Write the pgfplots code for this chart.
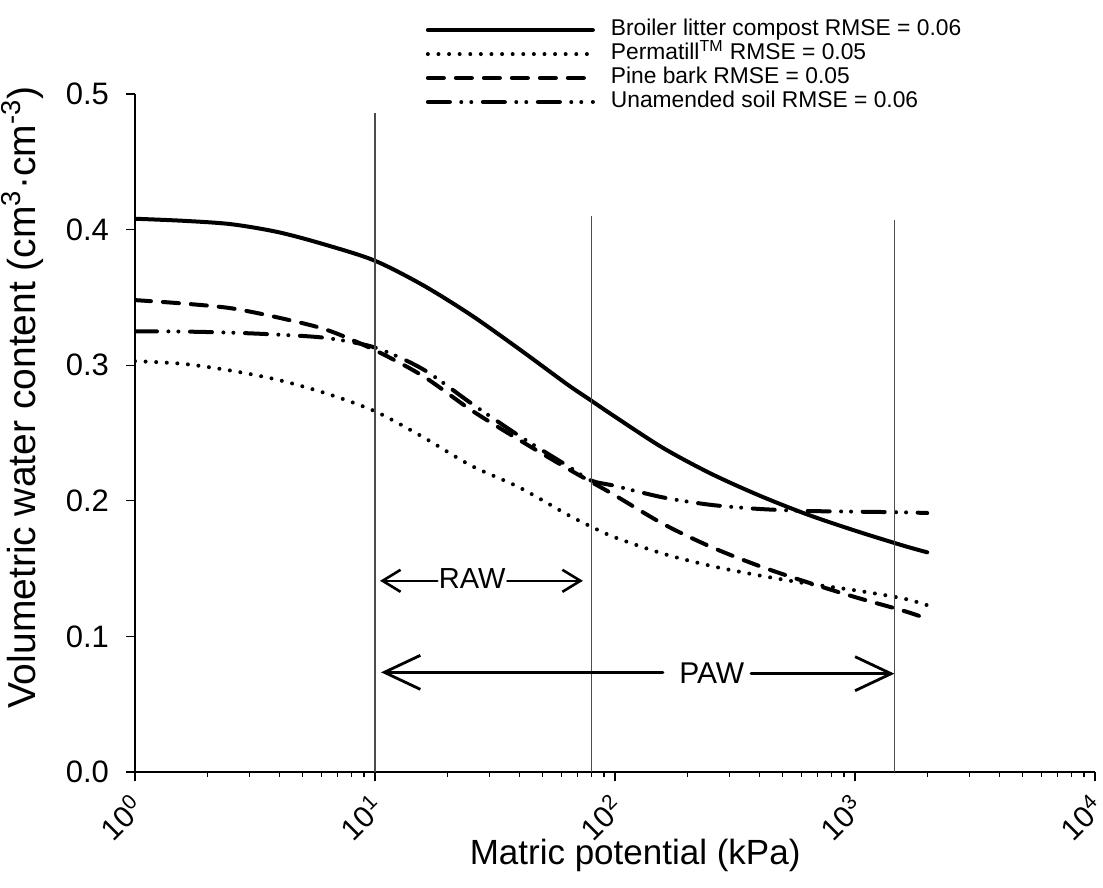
\documentclass[border=0pt]{standalone}
\usepackage{fontspec}
\setmainfont{Liberation Sans}
\usepackage{pgfplots}
\pgfplotsset{compat=1.18}
\usepackage{pgfplotstable}
\usetikzlibrary{arrows.meta}

% water retention curves (matric potential in kPa)
\pgfplotstableread{
psi    broiler permatill pine   unamended
1      0.408   0.303     0.348  0.325
1.585  0.4065  0.301     0.3455 0.3248
2.512  0.404   0.296     0.342  0.324
3.981  0.398   0.289     0.335  0.3225
6.310  0.3885  0.279     0.326  0.320
10     0.377   0.266     0.311  0.313
15.85  0.359   0.247     0.292  0.297
25.12  0.337   0.226     0.267  0.272
39.81  0.312   0.210     0.245  0.248
63.10  0.286   0.190     0.224  0.226
79.43  0.274   0.181     0.214  0.215
100    0.262   0.173     0.204  0.211
158.5  0.239   0.161     0.183  0.2025
251.2  0.220   0.152     0.166  0.197
398.1  0.204   0.145     0.152  0.194
631.0  0.190   0.139     0.140  0.1925
1000   0.178   0.134     0.129  0.192
1585   0.167   0.128     0.119  0.1915
2000   0.162   0.123     0.113  0.191
}\swrc

\begin{document}
\begin{tikzpicture}
\begin{axis}[
    scale only axis,
    width=480pt, height=339pt,
    xmode=log,
    xmin=1, xmax=10000, ymin=0, ymax=0.5,
    axis x line*=bottom, axis y line*=left,
    axis line style={line width=1.2pt},
    tick align=outside,
    major tick length=4.5pt, minor tick length=2.5pt,
    tick style={black, line width=0.6pt},
    xtick={1,10,100,1000,10000},
    xticklabels={10\textsuperscript{0},10\textsuperscript{1},10\textsuperscript{2},10\textsuperscript{3},10\textsuperscript{4}},
    x tick label style={rotate=45, anchor=east, yshift=-8pt, xshift=-2.5pt, font=\fontsize{15}{18}\selectfont},
    ytick={0,0.1,0.2,0.3,0.4,0.5},
    y tick label style={font=\fontsize{15.5}{18}\selectfont, xshift=-5pt,
        /pgf/number format/fixed, /pgf/number format/fixed zerofill,
        /pgf/number format/precision=1, /pgf/number format/assume math mode=true},
    xlabel={Matric potential (kPa)},
    ylabel={Volumetric water content (cm\textsuperscript{3}·cm\textsuperscript{-3})},
    xlabel style={font=\fontsize{17.5}{21}\selectfont,
        at={(axis description cs:0.521,-0.1224)}, anchor=center},
    ylabel style={font=\fontsize{19.5}{23}\selectfont,
        at={(axis description cs:-0.117,0.552)}, anchor=center},
    legend style={at={(0.303,1.112)}, anchor=north west, draw=none, fill=none,
        inner sep=0pt, outer sep=0pt,
        font=\fontsize{11.4}{13}\selectfont, row sep=0pt,
        nodes={inner ysep=0pt, text height=8.5pt, text depth=3.5pt},
        /tikz/every odd column/.append style={column sep=6pt}},
    legend cell align=left,
    legend image code/.code={\draw[#1] (0pt,0pt) -- (82.5pt,0pt);},
    every axis plot/.append style={line width=2pt, line cap=round, black},
]
\addplot[smooth] table[x=psi, y=broiler] {\swrc};
\addplot[smooth, dash pattern=on 0pt off 5.3pt] table[x=psi, y=permatill] {\swrc};
\addplot[smooth, dash pattern=on 8pt off 6pt] table[x=psi, y=pine] {\swrc};
\addplot[smooth, dash pattern=on 11pt off 5.7pt on 0pt off 5pt on 0pt off 5.8pt] table[x=psi, y=unamended] {\swrc};
\legend{Broiler litter compost RMSE = 0.06, Permatill\textsuperscript{TM} RMSE = 0.05, Pine bark RMSE = 0.05, Unamended soil RMSE = 0.06}

% field capacity / refill / wilting point markers
\addplot[forget plot, black!70, line width=0.6pt, line cap=butt] coordinates {(10,0) (10,0.486)};
\addplot[forget plot, black!70, line width=0.6pt, line cap=butt] coordinates {(80,0) (80,0.41)};
\addplot[forget plot, black!70, line width=0.6pt, line cap=butt] coordinates {(1460,0) (1460,0.407)};

% RAW and PAW arrows
\addplot[forget plot, line width=1.3pt, arrows={Straight Barb[length=9pt,width=11pt]-}] coordinates {(10.5,0.141) (18.2,0.141)};
\addplot[forget plot, line width=1.3pt, arrows={-Straight Barb[length=9pt,width=11pt]}] coordinates {(35.6,0.141) (73.5,0.141)};
\addplot[forget plot, line width=1.4pt, arrows={Straight Barb[length=18pt,width=17pt]-}] coordinates {(10.6,0.0735) (158.5,0.0735)};
\addplot[forget plot, line width=1.4pt, arrows={-Straight Barb[length=18pt,width=17pt]}] coordinates {(369,0.0725) (1459,0.0725)};
\node[font=\fontsize{14.5}{17}\selectfont] at (axis cs:25.4,0.143) {RAW};
\node[font=\fontsize{15}{18}\selectfont] at (axis cs:253,0.073) {PAW};
\end{axis}
% page as in the reference: axis box 480pt x 339pt placed like the original
\pgfresetboundingbox
\path[use as bounding box] (-67.5pt,-58pt) rectangle (484pt,386pt);
\end{tikzpicture}
\end{document}
